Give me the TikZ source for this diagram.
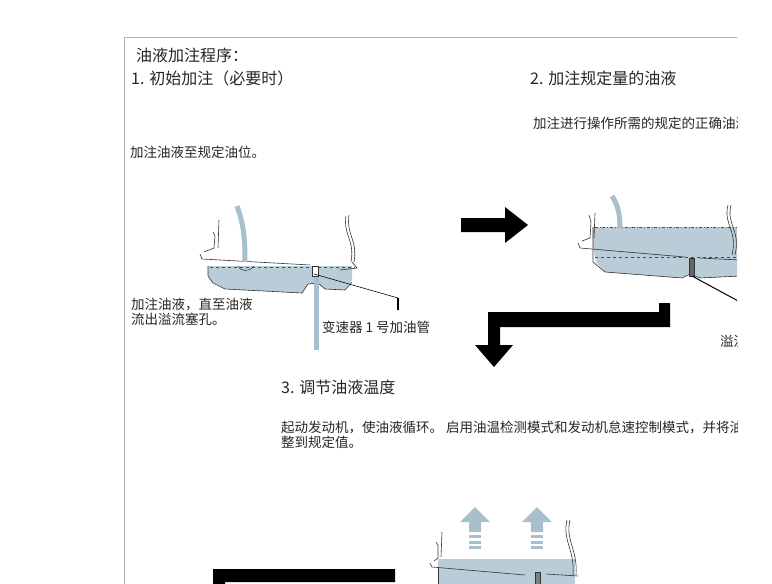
\documentclass[tikz,border=0pt]{standalone}
\usepackage{fontspec}
\setmainfont{Noto Sans CJK SC}
\begin{document}
\begin{tikzpicture}[x=1pt,y=-1pt,
  txt/.style={anchor=west,inner sep=0pt,font=\fontsize{13.5}{14.5}\selectfont,text=black!85},
  head/.style={anchor=west,inner sep=0pt,font=\fontsize{16}{18}\selectfont,text=black!85},
  oil/.style={fill=oilc,draw=none},
  pan/.style={draw=black!80,line width=0.6pt},
  tube/.style={draw=tubec,line width=5pt}]
\definecolor{oilc}{HTML}{B9CCD7}
\definecolor{tubec}{HTML}{A8C0CE}
\useasboundingbox (0,0) rectangle (772,584);
\fill[white] (0,0) rectangle (772,584);
\begin{scope}
\clip (0,0) rectangle (737,584);
% page frame
\draw[black!30,line width=0.7pt] (124,584) -- (124,37) -- (740,37);
% texts
\node[head] (t0) at (136,55) {油液加注程序：};
\node[head] (t1) at (131,78) {1. 初始加注（必要时）};
\node[head] (t2) at (530,78) {2. 加注规定量的油液};
\node[txt] (t2b) at (533,123) {加注进行操作所需的规定的正确油液量。};
\node[txt] (t1b) at (130,152) {加注油液至规定油位。};
\node[txt,align=left,anchor=north west] (t1c) at (131,298) {加注油液，直至油液\\流出溢流塞孔。};
\node[txt] (t1d) at (322,327) {变速器 1 号加油管};
\node[txt] (t2c) at (720,341) {溢流塞};
\node[head] (t3) at (281,387) {3. 调节油液温度};
\node[txt,align=left,anchor=north west] (t3b) at (281,421) {起动发动机，使油液循环。 启用油温检测模式和发动机怠速控制模式，并将油温调\\整到规定值。};
% black arrows
\fill[black] (461,218) -- (505,218) -- (505,207) -- (528,225) -- (505,243) -- (505,232) -- (461,232) -- cycle;
\fill[black] (670,303) -- (670,327) -- (500,327) -- (500,345) -- (513,345) -- (494,367) -- (475,345) -- (488,345) -- (488,312) -- (659,312) -- (659,303) -- cycle;
\fill[black] (395,569) -- (395,582) -- (225,582) -- (225,590) -- (213,590) -- (213,569) -- cycle;
% pan 1
\fill[oilc] (208,266) -- (352,266) -- (352,280) -- (345,290) -- (325,289) -- (318,283) -- (308,284) -- (302,293) -- (225,289) -- (212,282) -- (208,275) -- cycle;
\draw[pan] (208,266) -- (208,276) -- (213,283) -- (225,289) -- (302,293) -- (308,284) -- (318,283) -- (325,289) -- (345,290) -- (352,282);
\draw[pan] (200,254) -- (202,259) -- (310,265);
\draw[pan] (204,252) -- (214,248) -- (215,236) -- (213,232);
\draw[pan] (218,248) -- (219,220);
\draw[pan] (349,215) .. controls (346,235) and (358,240) .. (354,262);
\draw[pan] (346,216) .. controls (343,235) and (355,240) .. (351,262);
\draw[pan] (352,262) -- (357,268) -- (340,270);
\draw[black!70,dashed,line width=0.8pt] (210,267) -- (355,267);
\draw[tube] (237,206) .. controls (244,225) and (245,240) .. (245,262);
\draw[pan,line width=0.5pt] (238,266) .. controls (240,272) and (250,272) .. (254,266);
\draw[tube] (316,275) -- (316,350);
\draw[pan,fill=white] (312,266) rectangle (318,276);
\coordinate (k1) at (398,298);
\coordinate (k2) at (398,310);
\draw[black,line width=0.6pt] (314,274) -- (k1);
\draw[black,line width=1.5pt] (k1) -- (k2);
% pan 2
\fill[oilc] (593,227) -- (740,227) -- (740,276) -- (700,278) -- (690,274) -- (682,278) -- (605,272) -- (596,262) -- (593,245) -- cycle;
\draw[pan] (593,227) -- (593,262) -- (605,272) -- (682,278) -- (690,274) -- (700,278) -- (740,276);
\draw[black!70,dash dot,line width=1pt] (595,227) -- (740,227);
\draw[black!70,dashed,line width=0.8pt] (595,257) -- (740,257);
\draw[pan] (578,243) -- (580,248) -- (685,257);
\draw[pan] (582,241) -- (590,238) -- (591,222) -- (589,215);
\draw[pan] (594,238) -- (595,213);
\draw[pan] (728,205) .. controls (723,225) and (738,230) .. (732,255);
\draw[pan] (731,205) .. controls (726,225) and (741,230) .. (735,255);
\draw[pan] (700,258) -- (740,260);
\draw[tube] (612,196) .. controls (618,205) and (620,215) .. (620,228);
\draw[pan,fill=black!60] (689,258) rectangle (694,276);
\coordinate (k3) at (740,302);
\draw[black,line width=1pt] (692,276) -- (k3);
% pan 3
\fill[oilc] (438,559) -- (575,559) -- (575,584) -- (438,584) -- cycle;
\draw[pan] (430,563) -- (432,567) -- (525,575);
\draw[pan] (434,561) -- (438,558) -- (438,545) -- (436,542);
\draw[pan] (441,557) -- (442,532);
\draw[pan] (438,567) -- (438,584);
\draw[pan] (567,520) .. controls (562,540) and (575,550) .. (573,575);
\draw[pan] (570,520) .. controls (565,540) and (578,550) .. (576,575);
\draw[pan] (546,574) -- (578,576);
\draw[pan,fill=black!50] (535,572) rectangle (540,584);
\foreach \cx in {475,537}{
  \fill[tubec] (\cx-15,522) -- (\cx,507) -- (\cx+15,522) -- (\cx+6,522) -- (\cx+6,532) -- (\cx-6,532) -- (\cx-6,522) -- cycle;
  \foreach \yy in {535,540.5,546}{\fill[tubec] (\cx-6,\yy) rectangle (\cx+6,\yy+3);}
}
\end{scope}
\end{tikzpicture}
\end{document}
